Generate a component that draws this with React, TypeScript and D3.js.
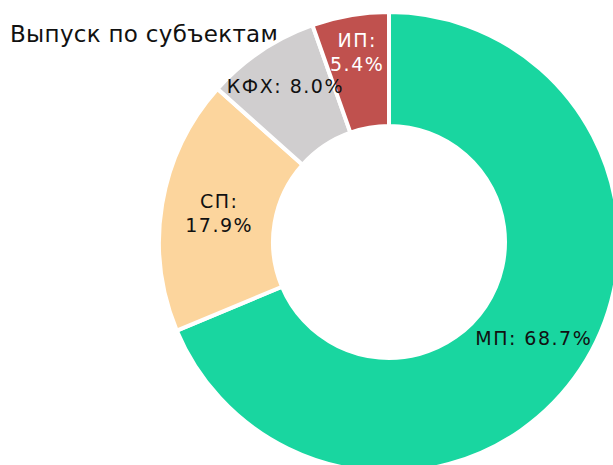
import React from 'react';
import * as d3 from 'd3';

// chart data
const categories = ['МП', 'СП', 'КФХ', 'ИП'];
const shares = [68.7, 17.9, 8.0, 5.4];
const colors = ['#19d6a0', '#fcd59d', '#d0cecf', '#c0514e'];
const labelColors = ['#111', '#111', '#111', '#fff'];
const title = 'Выпуск по субъектам';

const width = 613;
const height = 465;
const cx = 389;
const cy = 242;
const outerR = 230;
const innerR = 116;
const font = 'DejaVu Sans, Verdana, sans-serif';

const App = () => {
  const pie = d3
    .pie<number>()
    .sort(null)
    .value((d) => d);
  const arcs = pie(shares);

  const arc = d3
    .arc<d3.PieArcDatum<number>>()
    .innerRadius(innerR)
    .outerRadius(outerR);

  const lineH = 24;

  return (
    <svg
      width={width}
      height={height}
      style={{ position: 'absolute', left: 0, top: 0, background: '#fff' }}
    >
      <text
        x={10}
        y={42}
        fontFamily={font}
        fontSize={23}
        letterSpacing={0.3}
        fill="#111"
      >
        {title}
      </text>
      <g transform={`translate(${cx},${cy})`}>
        {arcs.map((a, i) => (
          <path
            key={categories[i]}
            d={arc(a) || ''}
            fill={colors[i]}
            stroke="#fff"
            strokeWidth={4}
          />
        ))}
        {arcs.map((a, i) => {
          const span = a.endAngle - a.startAngle;
          const mid = (a.startAngle + a.endAngle) / 2;
          // small slices push their text further out
          const r = span < 0.6 ? outerR - 25 - 35 * span : (innerR + outerR) / 2;
          const x = Math.sin(mid) * r;
          const y = -Math.cos(mid) * r;
          const pct = `${shares[i].toFixed(1)}%`;
          const lines =
            categories[i] === 'КФХ' || categories[i] === 'МП'
              ? [`${categories[i]}: ${pct}`]
              : [`${categories[i]}:`, pct];
          return (
            <text
              key={'l' + i}
              textAnchor="middle"
              fontFamily={font}
              fontSize={19}
              letterSpacing={1.5}
              fill={labelColors[i]}
            >
              {lines.map((t, j) => (
                <tspan
                  key={j}
                  x={x + 0.75}
                  y={y + (j - (lines.length - 1) / 2) * lineH}
                  dominantBaseline="central"
                >
                  {t}
                </tspan>
              ))}
            </text>
          );
        })}
      </g>
    </svg>
  );
};

export default App;
